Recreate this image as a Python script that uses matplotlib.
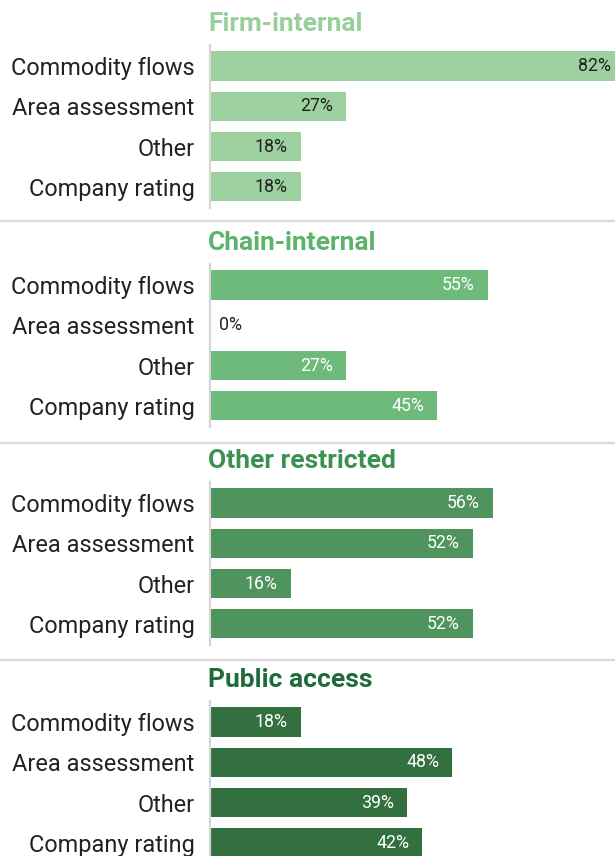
import matplotlib.pyplot as plt
from matplotlib.transforms import offset_copy

categories = ["Commodity flows", "Area assessment", "Other", "Company rating"]
panels = ["Firm-internal", "Chain-internal", "Other restricted", "Public access"]
firm_internal = [82, 27, 18, 18]
chain_internal = [55, 0, 27, 45]
other_restricted = [56, 52, 16, 52]
public_access = [18, 48, 39, 42]
values = [firm_internal, chain_internal, other_restricted, public_access]

bar_colors = ["#9dd19f", "#6dba7b", "#4e945c", "#33703f"]
title_colors = ["#98cf9b", "#5cb36c", "#3b9150", "#1f6b3a"]
label_colors = ["#222222", "#ffffff", "#ffffff", "#ffffff"]

W, H = 615, 856
fig = plt.figure(figsize=(W / 100, H / 100), dpi=100)
plt.rcParams['font.family'] = ['Roboto', 'DejaVu Sans']

first_centers = [66, 285, 503, 722]
step = 40.3
ax_left = 210
for k, (name, vals) in enumerate(zip(panels, values)):
    c0 = first_centers[k]
    top = c0 - 0.52 * step
    bottom = c0 + 3.52 * step
    ax = fig.add_axes([ax_left / W, 1 - bottom / H, (W - ax_left) / W, (bottom - top) / H])
    ax.set_xlim(0, (W - ax_left) / 5.05)
    ax.set_ylim(3.52, -0.52)
    ax.barh(range(len(categories)), vals, height=0.72, color=bar_colors[k], zorder=2)
    for s in ["top", "right", "bottom"]:
        ax.spines[s].set_visible(False)
    ax.spines["left"].set_color("#d5d5d5")
    ax.spines["left"].set_linewidth(1.6)
    ax.set_xticks([])
    ax.set_yticks(range(len(categories)))
    ax.set_yticklabels(categories, fontsize=16.9, color="#222222")
    ax.tick_params(axis="y", length=0, pad=11)
    for i, v in enumerate(vals):
        if v >= 5:
            t = offset_copy(ax.transData, fig=fig, x=-13, y=0, units="dots")
            ax.text(v, i, f"{v}%", transform=t, ha="right", va="center",
                    fontsize=12.8, color=label_colors[k], clip_on=False)
        else:
            t = offset_copy(ax.transData, fig=fig, x=9, y=0, units="dots")
            ax.text(v, i, f"{v}%", transform=t, ha="left", va="center",
                    fontsize=12.8, color="#222222")
    fig.text(208 / W, 1 - (c0 - 42) / H, name, ha="left", va="center",
             fontsize=19, fontweight="bold", color=title_colors[k])

for y in [221, 443, 660]:
    fig.add_artist(plt.Line2D([0, 1], [1 - y / H, 1 - y / H], color="#d9d9d9", lw=1.6,
                              transform=fig.transFigure))

fig.savefig("out.png", dpi=100)
